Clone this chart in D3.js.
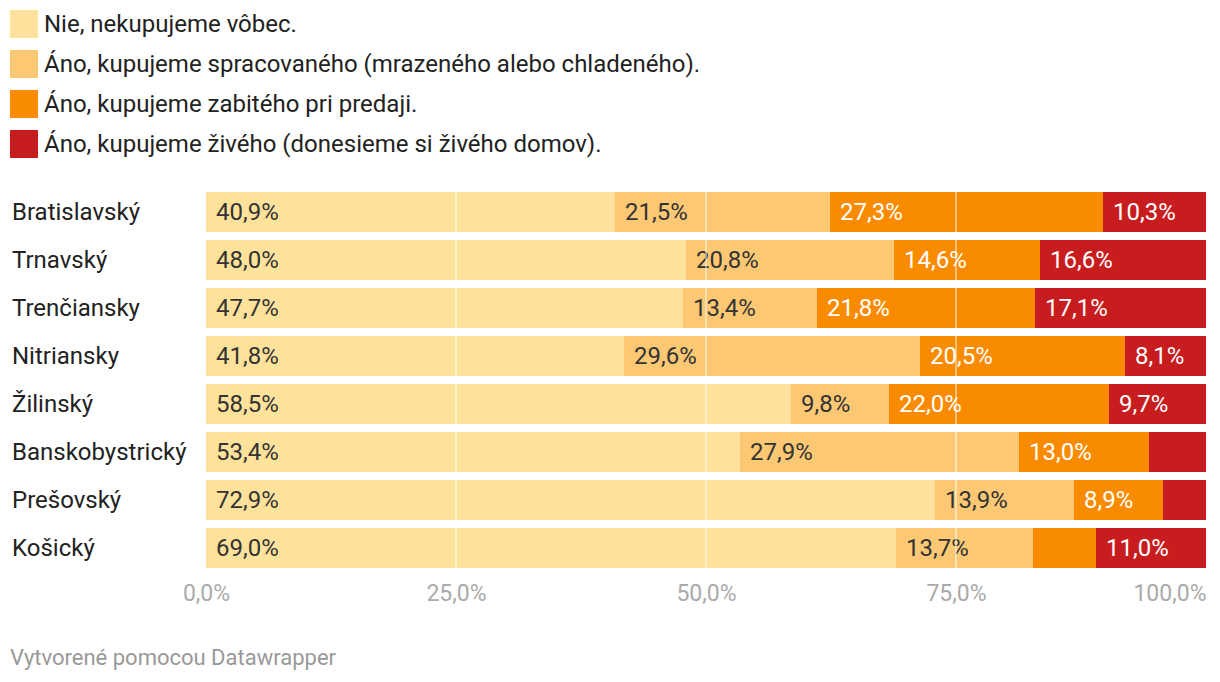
<!DOCTYPE html>
<html><head><meta charset="utf-8">
<script src="https://cdn.jsdelivr.net/npm/d3@7"></script>
<style>
body{margin:0;background:#fff;font-family:Roboto,"Noto Sans",sans-serif;}
svg{display:block}
</style></head>
<body>
<svg id="chart" width="1220" height="682"></svg>
<script>
const categories = ["Bratislavský","Trnavský","Trenčiansky","Nitriansky","Žilinský","Banskobystrický","Prešovský","Košický"];
const seriesNames = ["Nie, nekupujeme vôbec.","Áno, kupujeme spracovaného (mrazeného alebo chladeného).","Áno, kupujeme zabitého pri predaji.","Áno, kupujeme živého (donesieme si živého domov)."];
const nie      = [40.9,48.0,47.7,41.8,58.5,53.4,72.9,69.0];
const spracov  = [21.5,20.8,13.4,29.6,9.8,27.9,13.9,13.7];
const zabity   = [27.3,14.6,21.8,20.5,22.0,13.0,8.9,6.3];
const zivy     = [10.3,16.6,17.1,8.1,9.7,5.7,4.3,11.0];
const tickValues = [0,25,50,75,100];
const tickLabels = ["0,0%","25,0%","50,0%","75,0%","100,0%"];
const colors = ["#fee29b","#fdc874","#f98b00","#c81d1e"];
const textColors = ["#333","#333","#fff","#fff"];

const series = [nie,spracov,zabity,zivy];
const svg = d3.select("#chart");
const FS = 24;

// legend
const leg = svg.append("g");
seriesNames.forEach((n,i)=>{
  const y = 10 + i*40;
  leg.append("rect").attr("x",10).attr("y",y).attr("width",28).attr("height",28).attr("fill",colors[i]);
  leg.append("text").attr("x",44).attr("y",y+14).attr("dy","0.33em")
    .attr("font-size",FS).attr("fill","#222").text(n);
});

const x = d3.scaleLinear().domain([0,100]).range([206,1206]);
const y = d3.scaleBand().domain(categories).range([188,572]).paddingInner(8/48).paddingOuter(4/48);

const rows = categories.map((c,ci)=>{
  let acc=0;
  return series.map((s,si)=>{const v=s[ci]; const o={cat:c,si,v,x0:acc,x1:acc+v}; acc+=v; return o;});
});

const g = svg.append("g");
rows.forEach(r=>{
  g.selectAll(null).data(r).enter().append("rect")
    .attr("x",d=>x(d.x0)).attr("width",d=>x(d.x1)-x(d.x0))
    .attr("y",d=>y(d.cat)).attr("height",y.bandwidth())
    .attr("fill",d=>colors[d.si]);
});

// grid lines over bars
svg.append("g").selectAll("line").data(tickValues.filter(t=>t>0&&t<100)).enter().append("line")
  .attr("x1",d=>x(d)).attr("x2",d=>x(d)).attr("y1",188).attr("y2",572)
  .attr("stroke","#fff").attr("stroke-opacity",0.45).attr("stroke-width",2);

// value labels
rows.forEach(r=>{
  g.selectAll(null).data(r.filter(d=>d.v>=7)).enter().append("text")
    .attr("x",d=>x(d.x0)+10).attr("y",d=>y(d.cat)+y.bandwidth()/2).attr("dy","0.33em")
    .attr("font-size",FS).attr("fill",d=>textColors[d.si])
    .text(d=>d.v.toFixed(1).replace(".",",")+"%");
});

// category labels
svg.append("g").selectAll("text").data(categories).enter().append("text")
  .attr("x",12).attr("y",d=>y(d)+y.bandwidth()/2).attr("dy","0.33em")
  .attr("font-size",FS).attr("fill","#222").text(d=>d);

// axis
const axis = d3.axisBottom(x).tickValues(tickValues).tickFormat((d,i)=>tickLabels[i]).tickSize(0).tickPadding(0);
const ax = svg.append("g").attr("transform","translate(0,585)").call(axis);
ax.select(".domain").remove();
ax.selectAll("text").attr("font-size",23).attr("fill","#aaa").attr("font-family","Roboto,sans-serif")
  .attr("text-anchor",d=>d===100?"end":"middle");

svg.append("text").attr("x",10).attr("y",665).attr("font-size",22).attr("fill","#999").text("Vytvorené pomocou Datawrapper");
</script>
</body></html>
